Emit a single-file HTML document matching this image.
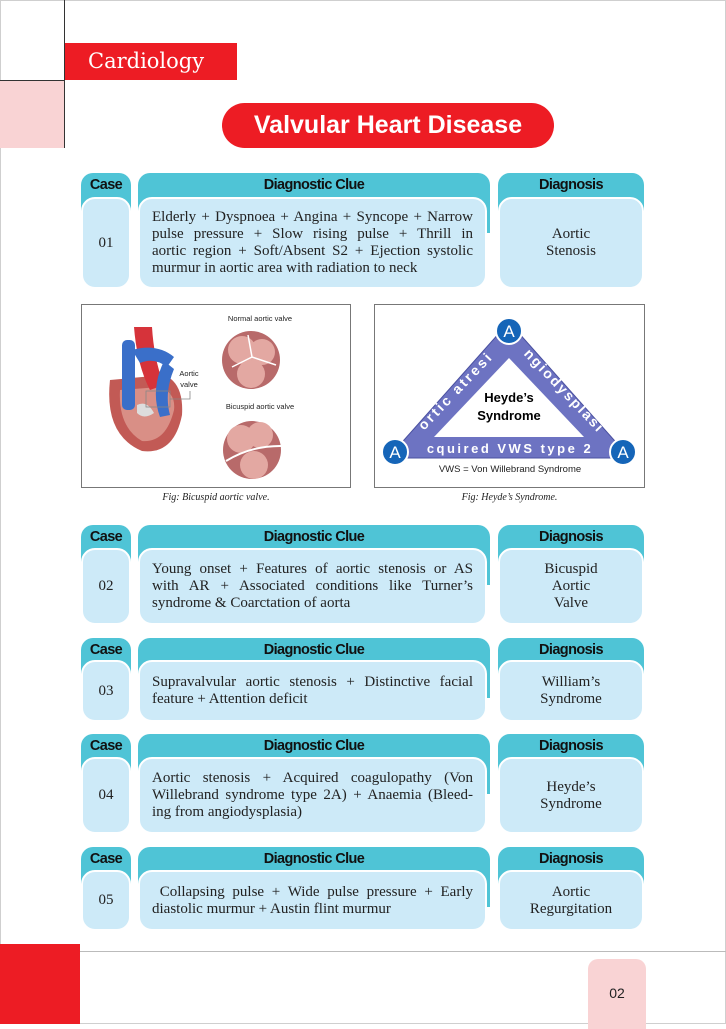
<!DOCTYPE html>
<html><head><meta charset="utf-8"><style>
*{margin:0;padding:0;box-sizing:border-box}
body{width:726px;height:1024px;position:relative;background:#fff;overflow:hidden;font-family:"Liberation Serif",serif}
.abs{position:absolute}
.frame{position:absolute;left:0;top:0;width:726px;height:1024px;border:1px solid #cfcfcf}
.hd{position:absolute;background:#4fc4d6;border-radius:12px 12px 0 0;font-family:"Liberation Sans",sans-serif;font-weight:bold;font-size:14.5px;color:#111;text-align:center;line-height:25px;letter-spacing:-0.6px}
.bd{position:absolute;background:#cdeaf8;border:2px solid #fff;border-radius:14px;display:flex;align-items:center;justify-content:center;font-size:15px;color:#222;line-height:17px;text-align:center}
.bd.clue{justify-content:flex-start;padding:0 12px 0 12px}
.bd.clue>div{width:100%}
.j{text-align:justify;text-align-last:justify;white-space:nowrap}
.l{text-align:left;white-space:nowrap}
.cap{position:absolute;font-style:italic;font-size:10px;color:#222;text-align:center}
</style></head><body>
<div class="frame"></div>
<div class="abs" style="left:0;top:80px;width:65px;height:68px;background:#f9d3d4"></div>
<div class="abs" style="left:64px;top:0;width:1px;height:148px;background:#333"></div>
<div class="abs" style="left:0;top:80px;width:65px;height:1px;background:#333"></div>
<div class="abs" style="left:65px;top:43px;width:172px;height:37px;background:#ed1c24;color:#fff;font-family:'DejaVu Serif',serif;font-size:21px;line-height:37px;padding-left:23px">Cardiology</div>
<div class="abs" style="left:222px;top:103px;width:332px;height:45px;background:#ed1c24;border-radius:23px;color:#fff;font-family:'Liberation Sans',sans-serif;font-weight:bold;font-size:25px;line-height:45px;text-align:center">Valvular Heart Disease</div>

<!-- Row 1 -->
<div class="hd" style="left:81px;top:173px;width:50px;height:60px">Case</div>
<div class="hd" style="left:138px;top:173px;width:352px;height:60px">Diagnostic Clue</div>
<div class="hd" style="left:498px;top:173px;width:146px;height:60px">Diagnosis</div>
<div class="bd" style="left:81px;top:197px;width:50px;height:92px">01</div>
<div class="bd clue" style="left:138px;top:197px;width:349px;height:92px"><div><div class="j">Elderly + Dyspnoea + Angina + Syncope + Narrow</div><div class="j">pulse pressure + Slow rising pulse + Thrill in</div><div class="j">aortic region + Soft/Absent S2 + Ejection systolic</div><div class="l">murmur in aortic area with radiation to neck</div></div></div>
<div class="bd" style="left:498px;top:197px;width:146px;height:92px">Aortic<br>Stenosis</div>

<!-- Figures -->
<div class="abs" style="left:81px;top:304px;width:270px;height:184px;border:1px solid #777;background:#fff">
<svg width="268" height="182" viewBox="0 0 268 182">
<circle cx="169" cy="55" r="29" fill="#b86a6a"/><circle cx="160" cy="45" r="14" fill="#e3a8a2"/><circle cx="180" cy="47" r="13" fill="#e3a8a2"/><circle cx="169" cy="69" r="14" fill="#e3a8a2"/>
<path d="M166 30 L170 52 L150 62 M170 52 L194 60" stroke="#fff" stroke-width="1.5" fill="none"/>
<circle cx="170" cy="145" r="29" fill="#b86a6a"/><circle cx="159" cy="134" r="14" fill="#e3a8a2"/><circle cx="178" cy="130" r="13" fill="#e3a8a2"/><circle cx="172" cy="160" r="14" fill="#e3a8a2"/>
<path d="M144 156 Q170 140 202 141" stroke="#fff" stroke-width="2" fill="none"/>
<path d="M28 75 Q22 130 60 146 Q92 150 100 110 Q102 78 82 70 Z" fill="#c25a55"/>
<path d="M38 85 Q36 122 60 136 Q84 138 92 105 Q94 88 78 82 Z" fill="#d98f86"/>
<rect x="40" y="35" width="13" height="70" rx="5" fill="#3a6fc9"/>
<path d="M52 22 Q55 60 68 85 L82 80 Q72 55 70 22 Z" fill="#d6333a"/>
<path d="M50 45 Q75 38 92 52 L85 62 Q72 52 58 58 Z" fill="#3a6fc9"/>
<path d="M82 56 Q68 85 78 112 L88 110 Q82 88 92 64 Z" fill="#3a6fc9"/>
<path d="M55 100 Q65 95 72 108 Q62 115 55 108 Z" fill="#ddd"/>
<rect x="64" y="86" width="24" height="16" fill="none" stroke="#888" stroke-width="0.8"/>
<path d="M88 94 L108 94 L108 86" stroke="#888" stroke-width="0.8" fill="none"/>
<text x="178" y="16" font-family="Liberation Sans" font-size="7.5" text-anchor="middle" fill="#222">Normal aortic valve</text>
<text x="178" y="104" font-family="Liberation Sans" font-size="7.5" text-anchor="middle" fill="#222">Bicuspid aortic valve</text>
<text x="107" y="71" font-family="Liberation Sans" font-size="7.5" text-anchor="middle" fill="#222">Aortic</text>
<text x="107" y="82" font-family="Liberation Sans" font-size="7.5" text-anchor="middle" fill="#222">valve</text>
</svg></div>
<div class="cap" style="left:81px;top:492px;width:270px">Fig: Bicuspid aortic valve.</div>

<div class="abs" style="left:374px;top:304px;width:271px;height:184px;border:1px solid #777;background:#fff"></div>
<svg class="abs" style="left:0;top:0" width="726" height="1024">
<polygon points="509,322 388,458 630,458" fill="#6d73c2" stroke="#4a50a0" stroke-width="1"/>
<polygon points="509,358 434,437 584,437" fill="#fff"/>
<text x="509" y="402" font-family="Liberation Sans" font-weight="bold" font-size="13" text-anchor="middle">Heyde’s</text>
<text x="509" y="420" font-family="Liberation Sans" font-weight="bold" font-size="13" text-anchor="middle">Syndrome</text>
<text transform="translate(459,394) rotate(-46.5)" font-family="Liberation Sans" font-weight="bold" font-size="14" fill="#fff" text-anchor="middle" letter-spacing="2.5">ortic atresi</text>
<text transform="translate(561,394) rotate(46.5)" font-family="Liberation Sans" font-weight="bold" font-size="14" fill="#fff" text-anchor="middle" letter-spacing="2">ngiodysplasi</text>
<text x="510" y="453" font-family="Liberation Sans" font-weight="bold" font-size="13" fill="#fff" text-anchor="middle" letter-spacing="2.5">cquired VWS type 2</text>
<g font-family="Liberation Sans" font-size="17" fill="#fff" text-anchor="middle">
<circle cx="509" cy="331" r="13" fill="#1565b8" stroke="#fff" stroke-width="2"/><text x="509" y="337">A</text>
<circle cx="395" cy="452" r="13" fill="#1565b8" stroke="#fff" stroke-width="2"/><text x="395" y="458">A</text>
<circle cx="623" cy="452" r="13" fill="#1565b8" stroke="#fff" stroke-width="2"/><text x="623" y="458">A</text>
</g>
<text x="510" y="472" font-family="Liberation Sans" font-size="9.5" text-anchor="middle" fill="#222">VWS = Von Willebrand Syndrome</text>
</svg>
<div class="cap" style="left:374px;top:492px;width:271px">Fig: Heyde’s Syndrome.</div>

<!-- Row 2 -->
<div class="hd" style="left:81px;top:525px;width:50px;height:60px">Case</div>
<div class="hd" style="left:138px;top:525px;width:352px;height:60px">Diagnostic Clue</div>
<div class="hd" style="left:498px;top:525px;width:146px;height:60px">Diagnosis</div>
<div class="bd" style="left:81px;top:548px;width:50px;height:77px">02</div>
<div class="bd clue" style="left:138px;top:548px;width:349px;height:77px"><div><div class="j">Young onset + Features of aortic stenosis or AS</div><div class="j">with AR + Associated conditions like Turner’s</div><div class="l">syndrome &amp; Coarctation of aorta</div></div></div>
<div class="bd" style="left:498px;top:548px;width:146px;height:77px">Bicuspid<br>Aortic<br>Valve</div>

<!-- Row 3 -->
<div class="hd" style="left:81px;top:638px;width:50px;height:60px">Case</div>
<div class="hd" style="left:138px;top:638px;width:352px;height:60px">Diagnostic Clue</div>
<div class="hd" style="left:498px;top:638px;width:146px;height:60px">Diagnosis</div>
<div class="bd" style="left:81px;top:660px;width:50px;height:62px">03</div>
<div class="bd clue" style="left:138px;top:660px;width:349px;height:62px"><div><div class="j">Supravalvular aortic stenosis + Distinctive facial</div><div class="l">feature + Attention deficit</div></div></div>
<div class="bd" style="left:498px;top:660px;width:146px;height:62px">William’s<br>Syndrome</div>

<!-- Row 4 -->
<div class="hd" style="left:81px;top:734px;width:50px;height:60px">Case</div>
<div class="hd" style="left:138px;top:734px;width:352px;height:60px">Diagnostic Clue</div>
<div class="hd" style="left:498px;top:734px;width:146px;height:60px">Diagnosis</div>
<div class="bd" style="left:81px;top:757px;width:50px;height:77px">04</div>
<div class="bd clue" style="left:138px;top:757px;width:349px;height:77px"><div><div class="j">Aortic stenosis + Acquired coagulopathy (Von</div><div class="j">Willebrand syndrome type 2A) + Anaemia (Bleed-</div><div class="l">ing from angiodysplasia)</div></div></div>
<div class="bd" style="left:498px;top:757px;width:146px;height:77px">Heyde’s<br>Syndrome</div>

<!-- Row 5 -->
<div class="hd" style="left:81px;top:847px;width:50px;height:60px">Case</div>
<div class="hd" style="left:138px;top:847px;width:352px;height:60px">Diagnostic Clue</div>
<div class="hd" style="left:498px;top:847px;width:146px;height:60px">Diagnosis</div>
<div class="bd" style="left:81px;top:870px;width:50px;height:61px">05</div>
<div class="bd clue" style="left:138px;top:870px;width:349px;height:61px"><div><div class="j">&nbsp;Collapsing pulse + Wide pulse pressure + Early</div><div class="l">diastolic murmur + Austin flint murmur</div></div></div>
<div class="bd" style="left:498px;top:870px;width:146px;height:61px">Aortic<br>Regurgitation</div>

<!-- Footer -->
<div class="abs" style="left:80px;top:951px;width:646px;height:1px;background:#bbb"></div>
<div class="abs" style="left:0;top:944px;width:80px;height:80px;background:#ed1c24"></div>
<div class="abs" style="left:588px;top:959px;width:58px;height:70px;background:#f9d3d4;border-radius:10px 10px 0 0;font-family:'Liberation Sans',sans-serif;font-size:14px;color:#222;text-align:center;line-height:68px">02</div>
</body></html>
